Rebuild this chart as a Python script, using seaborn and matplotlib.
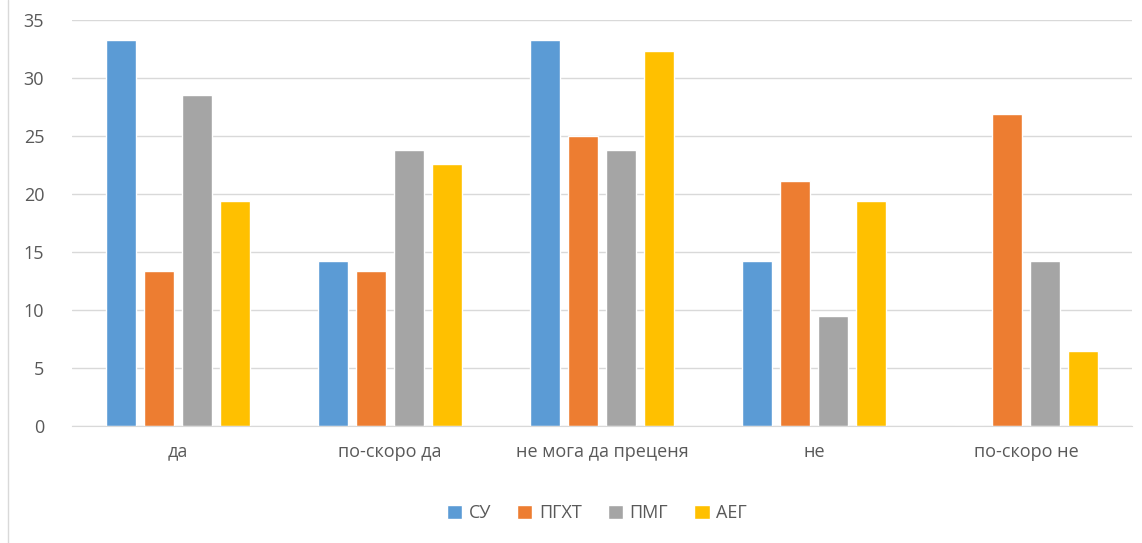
import numpy as np
import matplotlib.pyplot as plt
import pandas as pd
import seaborn as sns
from matplotlib.lines import Line2D

# categories and series
categories = ["да", "по-скоро да", "не мога да преценя", "не", "по-скоро не"]
series = ["СУ", "ПГХТ", "ПМГ", "АЕГ"]
su = [33.3, 14.2, 33.3, 14.2, 0]
pghT = [13.4, 13.4, 25.0, 21.1, 26.9]
pmg = [28.5, 23.8, 23.8, 9.5, 14.2]
aeg = [19.4, 22.6, 32.3, 19.4, 6.5]
colors = ["#5B9BD5", "#ED7D31", "#A5A5A5", "#FFC000"]

rows = []
for name, vals in zip(series, [su, pghT, pmg, aeg]):
    for cat, v in zip(categories, vals):
        rows.append({"cat": cat, "school": name, "value": v})
df = pd.DataFrame(rows)

sns.set_style("white")
plt.rcParams['font.family'] = ['Open Sans', 'DejaVu Sans']

fig = plt.figure(figsize=(11.42, 5.43), dpi=100)
ax = fig.add_axes([72 / 1142, 1 - 426 / 543, 1060 / 1142, 406 / 543])

sns.barplot(data=df, x="cat", y="value", hue="school", palette=colors,
            width=0.717, gap=0.21, ax=ax, legend=True, saturation=1)

ax.set_xlim(-0.5, 4.5)
ax.set_ylim(0, 35)
ax.set_yticks(range(0, 36, 5))
ax.yaxis.grid(True, color="#D9D9D9", linewidth=1)
ax.set_axisbelow(True)
ax.set_xlabel("")
ax.set_ylabel("")
for s in ["top", "right", "left"]:
    ax.spines[s].set_visible(False)
ax.spines["bottom"].set_color("#D9D9D9")
ax.tick_params(axis="both", length=0, labelsize=13, colors="#595959")
ax.tick_params(axis="x", pad=12)
ax.tick_params(axis="y", pad=20)

handles, labels = ax.get_legend_handles_labels()
ax.legend(handles, labels, loc="center", bbox_to_anchor=(0.495, -0.215),
          ncol=4, frameon=False, fontsize=13, labelcolor="#595959",
          handlelength=0.85, handleheight=0.85, handletextpad=0.35, columnspacing=1.45)

# chart area border on the left
fig.add_artist(Line2D([8 / 1142, 8 / 1142], [0, 1], color="#D9D9D9", linewidth=1))

fig.savefig("out.png", dpi=100)
